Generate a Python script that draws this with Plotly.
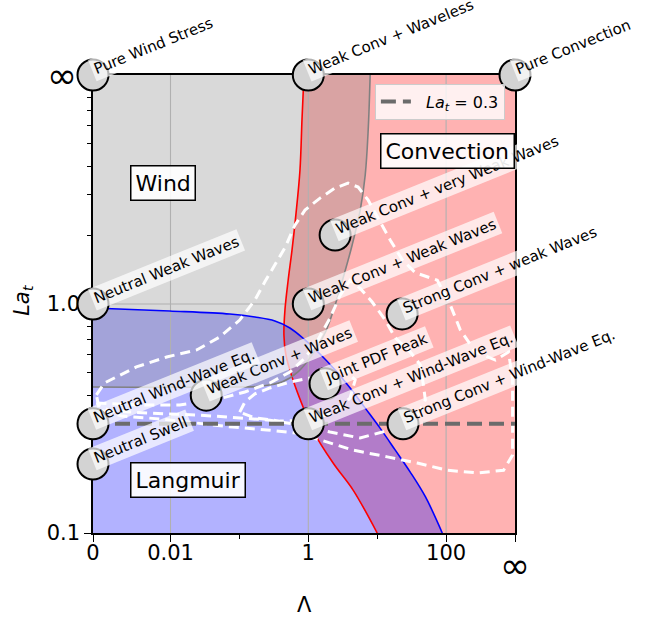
import math
import plotly.graph_objects as go

# ---------------------------------------------------------------------------
# Axis end points: Lambda = 0 / infinity and La_t = infinity sit on the frame
# ---------------------------------------------------------------------------
LAMBDA_ZERO = 10 ** -3.125
LAMBDA_INF = 1000.0
LA_MIN = 0.1
LA_INF = 10.0
INF = float("inf")


def ax_lambda(v):
    if v == 0:
        return LAMBDA_ZERO
    if math.isinf(v):
        return LAMBDA_INF
    return v


def ax_la(v):
    return LA_INF if math.isinf(v) else v


# ---------------------------------------------------------------------------
# Regime boundaries (Lambda, La_t)
# ---------------------------------------------------------------------------
# Convection boundary (red)
RED_LAMBDA = [0.865, 0.81, 0.757, 0.66, 0.58, 0.51, 0.458, 0.443, 0.473,
              0.60, 0.84, 1.17, 2.29, 4.47, 10.0]
RED_LAT = [INF, 6.4, 3.85, 2.45, 1.72, 1.27, 0.94, 0.73, 0.60,
           0.466, 0.355, 0.28, 0.202, 0.154, 0.1]

# Langmuir boundary (blue)
BLUE_LAMBDA = [0, 0.0097, 0.0725, 0.168, 0.327, 0.541, 0.895, 1.48, 2.45,
               4.05, 6.7, 11.0, 18.3, 30.0, 50.0, 88.0]
BLUE_LAT = [0.96, 0.932, 0.904, 0.877, 0.843, 0.786, 0.697, 0.605, 0.515,
            0.43, 0.351, 0.287, 0.23, 0.185, 0.144, 0.1]

# Wind boundary (gray)
GRAY_LAMBDA = [7.9, 7.4, 6.7, 5.67, 4.33, 3.2, 2.45, 1.75, 1.13, 0.708,
               0.414, 0.212, 0.101, 0]
GRAY_LAT = [INF, 5.75, 3.66, 2.57, 1.81, 1.30, 0.99, 0.747, 0.598, 0.505,
            0.456, 0.438, 0.434, 0.434]

# ---------------------------------------------------------------------------
# Joint PDF contours (outer, middle, inner)
# ---------------------------------------------------------------------------
PDF_OUTER_LAMBDA = [8.4e-4, 1.1e-3, 3.2e-3, 8.8e-3, 0.024, 0.052, 0.101, 0.168,
                    0.234, 0.327, 0.458, 0.64, 0.895, 1.48, 2.45, 3.78, 5.29,
                    7.4, 10.3, 15.5, 23.1, 35.7, 74.6, 115, 161, 267, 521, 807,
                    923, 923, 923, 682, 286, 104, 38.2, 14.0, 4.48, 1.48, 0.685,
                    0.251, 0.080, 0.024, 6.9e-3, 2.0e-3, 9.3e-4, 8.4e-4]
PDF_OUTER_LAT = [0.401, 0.452, 0.531, 0.587, 0.63, 0.718, 0.851, 1.04, 1.25,
                 1.48, 1.76, 2.21, 2.57, 2.90, 3.21, 3.37, 3.24, 2.84, 2.37,
                 1.90, 1.56, 1.37, 1.27, 0.99, 0.77, 0.617, 0.569, 0.617,
                 0.466, 0.311, 0.219, 0.188, 0.183, 0.188, 0.202, 0.215, 0.230,
                 0.255, 0.273, 0.282, 0.290, 0.302, 0.315, 0.324, 0.344, 0.401]

PDF_MID_LAMBDA = [8.4e-4, 3.55e-3, 0.0136, 0.0439, 0.120, 0.277, 0.542, 0.895,
                  1.38, 2.07, 2.89, 4.05, 5.66, 8.45, 13.1, 18.3, 30.2, 42.3,
                  46.8, 50.0, 35.7, 15.5, 5.66, 2.07, 0.757, 0.277, 0.101,
                  0.0265, 4.97e-3, 1.3e-3, 8.4e-4]
PDF_MID_LAT = [0.370, 0.362, 0.362, 0.381, 0.413, 0.452, 0.505, 0.581, 0.697,
               0.869, 1.09, 1.27, 1.17, 1.02, 0.851, 0.711, 0.617, 0.542,
               0.443, 0.381, 0.311, 0.282, 0.260, 0.276, 0.296, 0.311, 0.318,
               0.327, 0.334, 0.341, 0.370]

PDF_IN_LAMBDA = [0.101, 0.120, 0.168, 0.277, 0.542, 1.06, 2.07, 3.42, 4.79,
                 4.05, 2.45, 1.06, 0.387, 0.168, 0.101]
PDF_IN_LAT = [0.337, 0.373, 0.405, 0.430, 0.456, 0.475, 0.505, 0.515, 0.466,
              0.389, 0.337, 0.311, 0.308, 0.318, 0.337]

# ---------------------------------------------------------------------------
# Named regime points
# ---------------------------------------------------------------------------
POINT_NAMES = ["Pure Wind Stress", "Weak Conv + Waveless", "Pure Convection",
               "Neutral Weak Waves", "Weak Conv + very Weak Waves",
               "Weak Conv + Weak Waves", "Strong Conv + weak Waves",
               "Joint PDF Peak", "Weak Conv + Waves", "Neutral Wind-Wave Eq.",
               "Weak Conv + Wind-Wave Eq.", "Strong Conv + Wind-Wave Eq.",
               "Neutral Swell"]
POINT_LAMBDA = [0, 1, INF, 0, 2.45, 1, 23, 1.75, 0.033, 0, 1, 23.7, 0]
POINT_LAT = [INF, INF, INF, 1.0, 2.0, 1.0, 0.905, 0.448, 0.40, 0.3, 0.3, 0.3,
             0.2]

LAT_REFERENCE = 0.3

# Axis ticks
X_TICKS = [0, 0.01, 1, 100, INF]
X_TICK_TEXT = ["0", "0.01", "1", "100", ""]
X_MINOR = [0.1, 10]
Y_TICKS = [0.1, 1.0, INF]
Y_TICK_TEXT = ["0.1", "1.0", ""]
Y_MINOR = [0.2, 0.3, 0.4, 0.5, 0.6, 0.7, 0.8, 0.9, 2, 3, 4, 5, 6, 7, 8, 9]
X_GRID = [0.01, 1, 100]
Y_GRID = [1.0]

FONT = "DejaVu Sans"

fig = go.Figure()


def lx(vals):
    return [ax_lambda(v) for v in vals]


def ly(vals):
    return [ax_la(v) for v in vals]


# --- filled regimes -------------------------------------------------------
fig.add_trace(go.Scatter(
    x=lx(RED_LAMBDA) + [LAMBDA_INF, LAMBDA_INF],
    y=ly(RED_LAT) + [LA_MIN, LA_INF],
    fill="toself", fillcolor="rgba(255,0,0,0.3)", mode="lines",
    line=dict(width=0), hoverinfo="skip", showlegend=False))
fig.add_trace(go.Scatter(
    x=lx(BLUE_LAMBDA) + [LAMBDA_ZERO],
    y=ly(BLUE_LAT) + [LA_MIN],
    fill="toself", fillcolor="rgba(0,0,255,0.3)", mode="lines",
    line=dict(width=0), hoverinfo="skip", showlegend=False))
fig.add_trace(go.Scatter(
    x=lx(GRAY_LAMBDA) + [LAMBDA_ZERO],
    y=ly(GRAY_LAT) + [LA_INF],
    fill="toself", fillcolor="rgba(128,128,128,0.3)", mode="lines",
    line=dict(width=0), hoverinfo="skip", showlegend=False))

# --- grid lines (above the shaded regimes) --------------------------------
gx, gy = [], []
for v in X_GRID:
    gx += [v, v, None]
    gy += [LA_MIN, LA_INF, None]
for v in Y_GRID:
    gx += [LAMBDA_ZERO, LAMBDA_INF, None]
    gy += [v, v, None]
fig.add_trace(go.Scatter(x=gx, y=gy, mode="lines",
                         line=dict(color="#b0b0b0", width=1.1),
                         hoverinfo="skip", showlegend=False))

# --- regime boundaries ----------------------------------------------------
for xs, ys, col in [(RED_LAMBDA, RED_LAT, "red"),
                    (BLUE_LAMBDA, BLUE_LAT, "blue"),
                    (GRAY_LAMBDA, GRAY_LAT, "gray")]:
    fig.add_trace(go.Scatter(x=lx(xs), y=ly(ys), mode="lines",
                             line=dict(color=col, width=1.6, shape="spline"),
                             hoverinfo="skip", showlegend=False))

# --- joint PDF contours ---------------------------------------------------
for xs, ys in [(PDF_OUTER_LAMBDA, PDF_OUTER_LAT),
               (PDF_MID_LAMBDA, PDF_MID_LAT),
               (PDF_IN_LAMBDA, PDF_IN_LAT)]:
    fig.add_trace(go.Scatter(x=xs, y=ys, mode="lines",
                             line=dict(color="white", width=3,
                                       dash="10px,6px"),
                             hoverinfo="skip", showlegend=False))

# --- La_t = 0.3 reference line -------------------------------------------
fig.add_trace(go.Scatter(
    x=[LAMBDA_ZERO, LAMBDA_INF], y=[LAT_REFERENCE, LAT_REFERENCE],
    mode="lines", line=dict(color="#6b6b6b", width=4, dash="15px,7px"),
    name="&nbsp;&nbsp;<i>La</i><sub><i>t</i></sub>&nbsp;=&nbsp;0.3",
    hoverinfo="skip"))

# --- regime points --------------------------------------------------------
fig.add_trace(go.Scatter(
    x=lx(POINT_LAMBDA), y=ly(POINT_LAT), mode="markers",
    marker=dict(size=31, color="#d3d3d3", line=dict(color="black", width=2)),
    cliponaxis=False, hoverinfo="skip", showlegend=False))

annotations = []
for name, lam, la in zip(POINT_NAMES, POINT_LAMBDA, POINT_LAT):
    annotations.append(dict(
        x=math.log10(ax_lambda(lam)), y=math.log10(ax_la(la)),
        xref="x", yref="y", text=name, showarrow=False,
        textangle=-22, xanchor="left", yanchor="bottom",
        xshift=-6, yshift=-7,
        font=dict(family=FONT, size=15, color="black"),
        bgcolor="rgba(255,255,255,0.7)", borderpad=2))

# regime names
for text, px, py in [("Wind", 0.166, 0.764), ("Convection", 0.841, 0.834),
                     ("Langmuir", 0.225, 0.116)]:
    annotations.append(dict(
        x=px, y=py, xref="paper", yref="paper", text=text, showarrow=False,
        xanchor="center", yanchor="middle",
        font=dict(family=FONT, size=22, color="black"),
        bgcolor="rgba(255,255,255,0.9)", bordercolor="black", borderwidth=1.5,
        borderpad=4))

# infinity labels at the axis ends
annotations.append(dict(x=-0.073, y=0.998, xref="paper", yref="paper",
                        text="∞", showarrow=False, xanchor="center",
                        yanchor="middle",
                        font=dict(family=FONT, size=36, color="black")))
annotations.append(dict(x=1.0, y=-0.07, xref="paper", yref="paper",
                        text="∞", showarrow=False, xanchor="center",
                        yanchor="middle",
                        font=dict(family=FONT, size=36, color="black")))

# axis titles
annotations.append(dict(x=0.502, y=-0.157, xref="paper", yref="paper",
                        text="Λ", showarrow=False, xanchor="center",
                        yanchor="middle",
                        font=dict(family=FONT, size=21, color="black")))
annotations.append(dict(x=-0.166, y=0.509, xref="paper", yref="paper",
                        text="<i>La</i><sub><i>t</i></sub>", showarrow=False,
                        textangle=-90, xanchor="center", yanchor="middle",
                        font=dict(family=FONT, size=21, color="black")))

axis_common = dict(
    type="log", showgrid=False, zeroline=False, showline=True,
    linecolor="black", linewidth=1.5, mirror=True, ticks="outside",
    ticklen=7, tickwidth=1.2, tickcolor="black", layer="below traces",
    tickfont=dict(family=FONT, size=21, color="black"))

fig.update_layout(
    width=656, height=619,
    margin=dict(l=93, r=141, t=75, b=86),
    paper_bgcolor="white", plot_bgcolor="white",
    font=dict(family=FONT, color="black"),
    xaxis=dict(axis_common,
               range=[math.log10(LAMBDA_ZERO), math.log10(LAMBDA_INF)],
               tickmode="array", tickvals=lx(X_TICKS), ticktext=X_TICK_TEXT,
               ticklabelstandoff=-7,
               minor=dict(tickvals=X_MINOR, ticks="outside", ticklen=4,
                          tickcolor="black", showgrid=False)),
    yaxis=dict(axis_common,
               range=[math.log10(LA_MIN), math.log10(LA_INF)],
               tickmode="array", tickvals=ly(Y_TICKS), ticktext=Y_TICK_TEXT,
               minor=dict(tickvals=Y_MINOR, ticks="outside", ticklen=4,
                          tickcolor="black", showgrid=False)),
    legend=dict(x=0.668, y=0.981, xanchor="left", yanchor="top",
                bgcolor="rgba(255,255,255,0.8)", bordercolor="#cccccc",
                borderwidth=1, font=dict(family=FONT, size=16)),
    annotations=annotations,
)

fig.write_html("out.html")
